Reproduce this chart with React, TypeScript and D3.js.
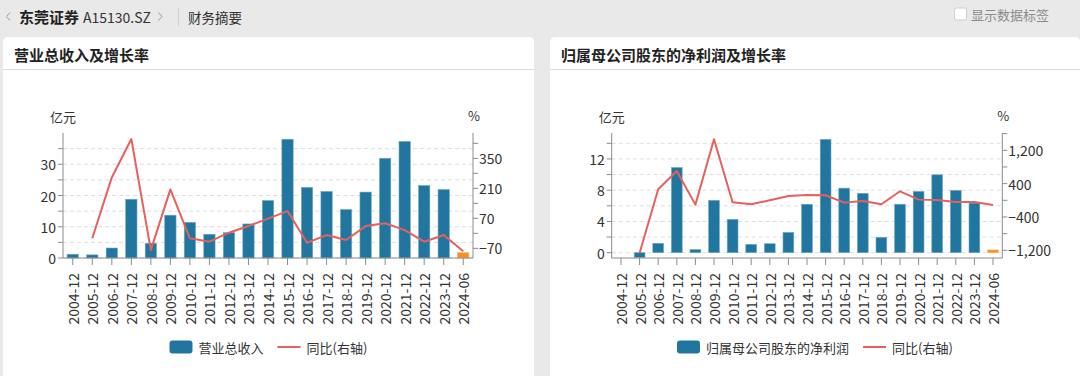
import React from "react";
import * as d3 from "d3";

const categories = ["2004-12","2005-12","2006-12","2007-12","2008-12","2009-12","2010-12","2011-12","2012-12","2013-12","2014-12","2015-12","2016-12","2017-12","2018-12","2019-12","2020-12","2021-12","2022-12","2023-12","2024-06"];

const revenue = [1.2, 1.0, 3.2, 18.8, 4.7, 13.7, 11.4, 7.6, 8.1, 10.9, 18.4, 38.0, 22.6, 21.3, 15.5, 21.1, 31.9, 37.3, 23.2, 21.9, 1.7];
const revenueYoY: (number | null)[] = [null, -23, 261, 440, -78, 205, -23, -39, 3, 34, 69, 104, -44, -8, -31, 34, 47, 15, -39, -8, -84];

const netProfit: (number | null)[] = [null, -0.6, 1.2, 10.9, 0.4, 6.7, 4.26, 1.07, 1.15, 2.6, 6.2, 14.5, 8.26, 7.6, 1.97, 6.2, 7.84, 9.97, 7.97, 6.35, 0.35];
const netProfitYoY: (number | null)[] = [null, -1265, 264, 704, -104, 1464, -48, -96, 0, 104, 128, 120, -56, -16, -96, 216, 16, 8, -40, -40, -112];

const revLeftTicks = [0, 5, 10, 15, 20, 25, 30, 35];
const revLeftLabels = [0, 10, 20, 30];
const revRightTicks = [-70, 0, 70, 140, 210, 280, 350, 420];
const revRightLabels = [-70, 70, 210, 350];

const npLeftTicks = [0, 2, 4, 6, 8, 10, 12, 14];
const npLeftLabels = [0, 4, 8, 12];
const npRightTicks = [-1200, -800, -400, 0, 400, 800, 1200, 1600];
const npRightLabels = [-1200, -400, 400, 1200];

const BLUE = "#21769f";
const ORANGE = "#f8901f";
const RED = "#e5605e";
const AXIS = "#8c8c8c";
const FONT = "'Noto Sans CJK SC', 'Noto Sans', sans-serif";

type ChartProps = {
  panelX: number;
  panelW: number;
  title: string;
  barName: string;
  left: number;
  right: number;
  bars: (number | null)[];
  line: (number | null)[];
  leftDomain: [number, number];
  rightDomain: [number, number];
  leftTicks: number[];
  leftLabels: number[];
  rightTicks: number[];
  rightLabels: number[];
};

const TOP = 133;
const BOTTOM = 258;

function Chart(p: ChartProps) {
  const x = d3.scaleBand<string>().domain(categories).range([p.left, p.right]);
  const yL = d3.scaleLinear().domain(p.leftDomain).range([BOTTOM, TOP]);
  const yR = d3.scaleLinear().domain(p.rightDomain).range([BOTTOM, TOP]);
  const bw = x.bandwidth() * 0.58;
  const fmt = d3.format(",");
  const lineGen = d3
    .line<number | null>()
    .defined((d) => d != null)
    .x((_, i) => (x(categories[i]) as number) + x.bandwidth() / 2)
    .y((d) => yR(d as number));

  const legTextW1 = p.barName.length * 13;
  const legTextW2 = 61;
  const legW = 23 + 6 + legTextW1 + 14 + 23 + 6 + legTextW2;
  const legX = p.panelX + p.panelW / 2 - legW / 2;
  const legY = 347;

  return (
    <g>
      <rect x={p.panelX} y={37} width={p.panelW} height={360} rx={5} fill="#fff" />
      <text x={p.panelX + 11} y={54.5} dominantBaseline="central" fontSize={15} fontWeight={700} fill="#222" fontFamily={FONT}>
        {p.title}
      </text>
      <line x1={p.panelX} x2={p.panelX + p.panelW} y1={69.5} y2={69.5} stroke="#dcdcdc" />

      {p.leftTicks.map((t) => (
        <line key={"g" + t} x1={p.left} x2={p.right} y1={yL(t)} y2={yL(t)} stroke="#dedede" strokeDasharray="4,3" />
      ))}

      {p.bars.map((v, i) =>
        v == null ? null : (
          <rect
            key={"b" + i}
            x={(x(categories[i]) as number) + x.bandwidth() / 2 - bw / 2}
            y={Math.min(yL(v), yL(0))}
            width={bw}
            height={Math.abs(yL(0) - yL(v))}
            fill={i === categories.length - 1 ? ORANGE : BLUE}
            stroke={i === categories.length - 1 ? "#fbb36a" : "#6fa8c8"}
            strokeWidth={0.6}
          />
        )
      )}

      <path d={lineGen(p.line) || ""} fill="none" stroke={RED} strokeWidth={2} strokeLinejoin="round" />

      <line x1={p.left} x2={p.left} y1={TOP} y2={BOTTOM} stroke={AXIS} />
      {p.leftTicks.map((t) => (
        <line key={"lt" + t} x1={p.left - 5} x2={p.left} y1={yL(t)} y2={yL(t)} stroke={AXIS} />
      ))}
      {p.leftLabels.map((t) => (
        <text key={"ll" + t} x={p.left - 7} y={yL(t)} textAnchor="end" dominantBaseline="central" fontSize={14} fill="#333" fontFamily={FONT}>
          {fmt(t)}
        </text>
      ))}
      <text x={p.left - 13} y={116.5} textAnchor="start" dominantBaseline="central" fontSize={13} fill="#333" fontFamily={FONT}>
        亿元
      </text>

      <line x1={p.right} x2={p.right} y1={TOP} y2={BOTTOM} stroke={AXIS} />
      {p.rightTicks.map((t) => (
        <line key={"rt" + t} x1={p.right} x2={p.right + 5} y1={yR(t)} y2={yR(t)} stroke={AXIS} />
      ))}
      {p.rightLabels.map((t) => (
        <text key={"rl" + t} x={p.right + 6} y={yR(t)} textAnchor="start" dominantBaseline="central" fontSize={14} fill="#333" fontFamily={FONT}>
          {fmt(t)}
        </text>
      ))}
      <text x={p.right - 5} y={115.5} textAnchor="start" dominantBaseline="central" fontSize={13} fill="#333" fontFamily={FONT}>
        %
      </text>

      <line x1={p.left} x2={p.right} y1={BOTTOM} y2={BOTTOM} stroke={AXIS} />
      {categories.map((c) => {
        const cx = (x(c) as number) + x.bandwidth() / 2;
        return (
          <g key={"x" + c}>
            <line x1={cx} x2={cx} y1={BOTTOM} y2={BOTTOM + 7} stroke={AXIS} />
            <text
              transform={`translate(${cx},${BOTTOM + 15}) rotate(-90)`}
              textAnchor="end"
              dominantBaseline="central"
              fontSize={14}
              fill="#333"
              fontFamily={FONT}
            >
              {c}
            </text>
          </g>
        );
      })}

      <rect x={legX} y={legY - 6.5} width={23} height={13} rx={3} fill={BLUE} />
      <text x={legX + 29} y={legY} dominantBaseline="central" fontSize={13} fill="#333" fontFamily={FONT}>
        {p.barName}
      </text>
      <line x1={legX + 29 + legTextW1 + 14} x2={legX + 29 + legTextW1 + 37} y1={legY} y2={legY} stroke={RED} strokeWidth={2} />
      <text x={legX + 29 + legTextW1 + 43} y={legY} dominantBaseline="central" fontSize={13} fill="#333" fontFamily={FONT}>
        同比(右轴)
      </text>
    </g>
  );
}

export default function App() {
  return (
    <svg
      width={1080}
      height={376}
      style={{ position: "absolute", left: 0, top: 0, display: "block" }}
      fontFamily={FONT}
    >
      <rect x={0} y={0} width={1080} height={376} fill="#e9e9e9" />
      <path d="M10,12.5 L6.5,16.5 L10,20.5" fill="none" stroke="#999" strokeWidth={1} />
      <text x={19} y={16.5} dominantBaseline="central" fontSize={15} fontWeight={700} fill="#222" fontFamily={FONT}>东莞证券</text>
      <text x={83} y={16.5} dominantBaseline="central" fontSize={14} fill="#333" fontFamily={FONT}>A15130.SZ</text>
      <path d="M158.5,12.5 L162,16.5 L158.5,20.5" fill="none" stroke="#999" strokeWidth={1} />
      <line x1={178.5} x2={178.5} y1={8} y2={26} stroke="#cfcfcf" />
      <text x={188} y={16.5} dominantBaseline="central" fontSize={13.5} fill="#333" fontFamily={FONT}>财务摘要</text>
      <rect x={954.5} y={8} width={12} height={12} rx={2} fill="#fff" stroke="#ccc" />
      <text x={971} y={14} dominantBaseline="central" fontSize={13} fill="#8a8a8a" fontFamily={FONT}>显示数据标签</text>

      <Chart
        panelX={3}
        panelW={531}
        title="营业总收入及增长率"
        barName="营业总收入"
        left={63}
        right={473}
        bars={revenue}
        line={revenueYoY}
        leftDomain={[0, 40]}
        rightDomain={[-115, 468.3]}
        leftTicks={revLeftTicks}
        leftLabels={revLeftLabels}
        rightTicks={revRightTicks}
        rightLabels={revRightLabels}
      />
      <Chart
        panelX={550}
        panelW={530}
        title="归属母公司股东的净利润及增长率"
        barName="归属母公司股东的净利润"
        left={611.7}
        right={1002.3}
        bars={netProfit}
        line={netProfitYoY}
        leftDomain={[-0.68, 15.32]}
        rightDomain={[-1385, 1615]}
        leftTicks={npLeftTicks}
        leftLabels={npLeftLabels}
        rightTicks={npRightTicks}
        rightLabels={npRightLabels}
      />
    </svg>
  );
}
